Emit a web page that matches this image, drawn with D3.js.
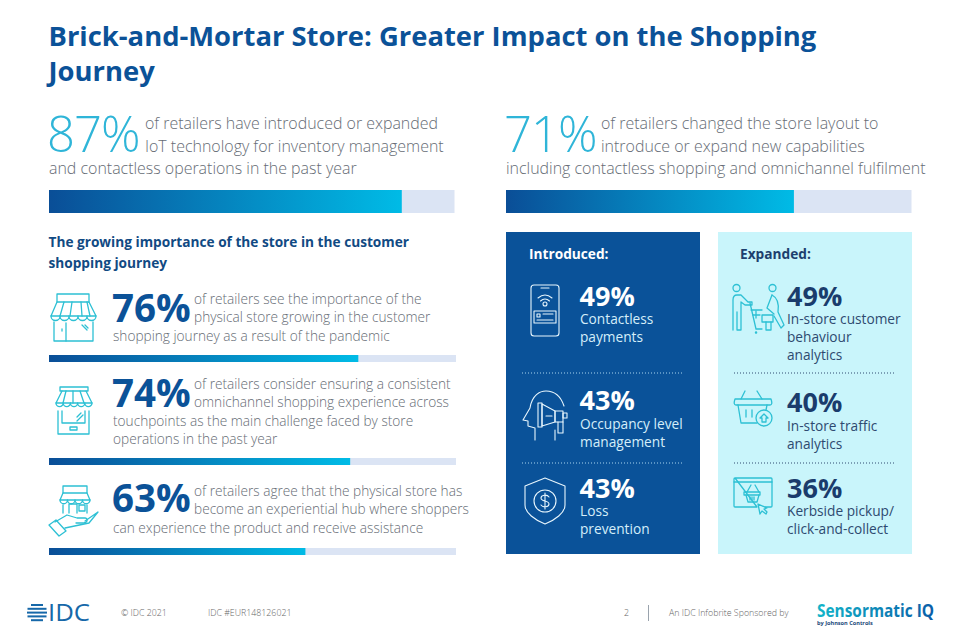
<!DOCTYPE html>
<html>
<head>
<meta charset="utf-8">
<script src="https://cdn.jsdelivr.net/npm/d3@7"></script>
<style>
  html, body { margin: 0; padding: 0; background: #fff; }
  text { font-family: "Open Sans", sans-serif; }
</style>
</head>
<body>
<svg id="chart" width="960" height="640"></svg>
<script>
const titleLines = ["Brick-and-Mortar Store: Greater Impact on the Shopping", "Journey"];

// two headline numbers
const headlineValues = [87, 71];
const headlineText = [
  ["of retailers have introduced or expanded", "IoT technology for inventory management", "and contactless operations in the past year"],
  ["of retailers changed the store layout to", "introduce or expand new capabilities", "including contactless shopping and omnichannel fulfilment"]
];

const subHeading = ["The growing importance of the store in the customer", "shopping journey"];

// left column
const storeValues = [76, 74, 63];
const storeText = [
  ["of retailers see the importance of the", "physical store growing in the customer", "shopping journey as a result of the pandemic"],
  ["of retailers consider ensuring a consistent", "omnichannel shopping experience across", "touchpoints as the main challenge faced by store", "operations in the past year"],
  ["of retailers agree that the physical store has", "become an experiential hub where shoppers", "can experience the product and receive assistance"]
];

// right panels
const introducedValues = [49, 43, 43];
const introducedLabels = [["Contactless", "payments"], ["Occupancy level", "management"], ["Loss", "prevention"]];
const expandedValues = [49, 40, 36];
const expandedLabels = [["In-store customer", "behaviour", "analytics"], ["In-store traffic", "analytics"], ["Kerbside pickup/", "click-and-collect"]];

const footerText = ["© IDC 2021", "IDC #EUR148126021", "2", "An IDC Infobrite Sponsored by"];

const blue = "#0b5298", cyan = "#2fb5d8", grey = "#666c75";
const svg = d3.select("#chart");

const grad = svg.append("defs").append("linearGradient").attr("id", "barGrad");
grad.append("stop").attr("offset", "0%").attr("stop-color", "#0a4e97");
grad.append("stop").attr("offset", "100%").attr("stop-color", "#00bbe6");

const logoGrad = svg.select("defs").append("linearGradient").attr("id", "logoGrad");
logoGrad.append("stop").attr("offset", "0%").attr("stop-color", "#12b5c9");
logoGrad.append("stop").attr("offset", "100%").attr("stop-color", "#0a5ea8");

function addText(x, y, str, size, weight, fill) {
  return svg.append("text").attr("x", x).attr("y", y).text(str)
    .attr("font-size", size).attr("font-weight", weight).attr("fill", fill);
}

// the value bars all share this: track plus gradient fill on a 0-100 scale
function progress(x0, x1, y, h, value) {
  const x = d3.scaleLinear().domain([0, 100]).range([x0, x1]);
  svg.append("rect").attr("x", x(0)).attr("y", y).attr("width", x(100) - x(0)).attr("height", h).attr("fill", "#dbe4f4");
  svg.append("rect").attr("x", x(0)).attr("y", y).attr("width", x(value) - x(0)).attr("height", h).attr("fill", "url(#barGrad)");
}

titleLines.forEach((t, i) => addText(48.5, 46 + i * 35, t, 27.4, 700, blue));

// headlines
const headX = [[49, 506], [145, 601]];
headlineValues.forEach((v, i) => {
  const left = headX[0][i];
  addText(left - 2, 152, v + "%", 49, 300, cyan).attr("letter-spacing", -1);
  headlineText[i].forEach((t, j) => {
    addText(j < 2 ? headX[1][i] : left, 129 + j * 22.7, t, 15.95, 300, grey);
  });
  progress(left, left + 405.5, 190, 23, v);
});

subHeading.forEach((t, i) => addText(48.5, 247 + i * 20.5, t, 13.66, 700, "#114a83"));

// left column rows
const rowPctBase = [322, 406.5, 512];
const rowTextBase = [322, 407, 514];
const rowBarY = [355, 458, 548];
storeValues.forEach((v, i) => {
  addText(112, rowPctBase[i], v + "%", 38.5, 700, blue);
  storeText[i].forEach((t, j) => {
    addText(j < 2 ? 194 : 113, rowTextBase[i] - 18.3 + j * 18.4, t, 13.66, 300, grey);
  });
  progress(49, 456, rowBarY[i], 7, v);
});

// panels
svg.append("rect").attr("x", 506).attr("y", 232).attr("width", 194).attr("height", 322).attr("fill", "#0a5299");
svg.append("rect").attr("x", 718).attr("y", 232).attr("width", 194).attr("height", 322).attr("fill", "#c9f5fb");

addText(529, 259, "Introduced:", 13.7, 700, "#fff");
addText(740, 259, "Expanded:", 13.7, 700, "#1c3f6e");

const inBase = [306, 410, 498], inLabelBase = [324, 429, 516];
const exBase = [306, 412, 498], exLabelBase = [324, 431, 516];
introducedValues.forEach((v, i) => {
  addText(579.5, inBase[i], v + "%", 27, 700, "#fff");
  introducedLabels[i].forEach((t, j) => addText(580, inLabelBase[i] + j * 18.2, t, 13.7, 400, "#d5eef9"));
});
expandedValues.forEach((v, i) => {
  addText(787, exBase[i], v + "%", 27, 700, "#1a3c6c");
  expandedLabels[i].forEach((t, j) => addText(787, exLabelBase[i] + j * 18.2, t, 13.7, 400, "#2e4a70"));
});

[[522, 684, "#a8d4ee"], [734, 896, "#2e4a70"]].forEach(d => {
  [373, 463].forEach(y => {
    svg.append("line").attr("x1", d[0]).attr("x2", d[1]).attr("y1", y).attr("y2", y)
      .attr("stroke", d[2]).attr("stroke-width", 1).attr("stroke-dasharray", "1 2");
  });
});

// outline icons
function icon(stroke, width, paths) {
  svg.append("g").attr("fill", "none").attr("stroke", stroke).attr("stroke-width", width)
    .attr("stroke-linecap", "round").attr("stroke-linejoin", "round")
    .selectAll("path").data(paths).join("path").attr("d", d => d);
}
const scallop = (x, y, r, n) => {
  let s = `M${x} ${y}`;
  for (let i = 0; i < n; i++) s += `a${r} ${r} 0 0 0 ${2 * r} 0`;
  return s;
};
const teal = "#2dc0d4";

// store front
icon(teal, 1.3, [
  "M57 302V294H89V302", "M57 302H89L96 316H51Z", "M64 302L60 316M72 302L70 316M81 302L82 316M87 302L90 316",
  scallop(51, 316, 4.5, 5), "M54 322V341H93V322", "M66 323V341", "M62 329V331", "M82 325L87 330M85 325L88 328"
]);
// tablet with awning
icon(teal, 1.3, [
  "M60 387H88V391H60Z", "M62 391L56 403H92L86 391", "M66 391L63 403M73 391V403M80 391L84 403",
  scallop(56, 403, 3.6, 5), "M58 411V434H89V411", "M62 411V423H85V411", "M70 427H77V430H70Z", "M77 417L81 413M77 421L83 415"
]);
// store on a hand
icon(teal, 1.3, [
  "M63 486H87V493H63Z", "M63 493L60 500H90L87 493", scallop(60, 500, 3.75, 4), "M63 505V513M87 505V513",
  "M69 513V504H77V513", "M79 505H85V511H79Z",
  "M49 525L56 520L66 531L59 536Z", "M55 522L67 515L77 518H85C88 518 88 522 84 523L76 523",
  "M85 521L98 512L89 523L65 528"
]);
// phone payment
icon("#e8f6fd", 1.1, [
  "M534 285H556Q559 285 559 288V333Q559 336 556 336H534Q531 336 531 333V288Q531 285 534 285Z", "M541 288H549",
  "M538 298Q545 292 552 298M540.5 301Q545 297 549.5 301", "M543 304a2 2 0 1 0 4 0a2 2 0 1 0 -4 0",
  "M534 311H556V323H534Z", "M537 314H540V317H537ZM543 314H553M537 320H553"
]);
// head with megaphone
icon("#e8f6fd", 1.1, [
  "M535 440V428L528 426V421L523 420L530 408C532 395 540 391 546 391C555 391 561 397 564 406",
  "M555 440V430", "M538 403V427H542V403Z", "M542 404L555 411V422L542 426Z", "M555 411H563V422H555Z", "M563 413H567V418H563Z",
  "M558 422V433H563V422", "M546 416H552"
]);
// shield with dollar
icon("#e8f6fd", 1.1, [
  "M545 478L565 486V505C565 513 555 520 545 524C535 520 525 513 525 505V486Z",
  "M534 501a11 11 0 1 0 22 0a11 11 0 1 0 -22 0", "M549 497C547 494 541 495 541 498C541 502 549 500 549 504C549 507 543 508 541 505M545 493V509"
]);
// two shoppers and cart
icon(teal, 1.3, [
  "M733 288a3.5 3.5 0 1 0 7 0a3.5 3.5 0 1 0 -7 0", "M733 330V300Q733 295 737 295H741L748 302H752V305H745L741 302V330H737V312",
  "M769 288a3.5 3.5 0 1 0 7 0a3.5 3.5 0 1 0 -7 0", "M750 303L756 329H762M751 310H762", "M753 315H760M756 311V318",
  "M772 295C778 298 779 305 778 312L784 325L781 328L774 316", "M772 295L767 308L774 314", "M771 322V330H766V322",
  "M762 315H773V322H762Z", "M756 332a.6 .6 0 1 0 .1 0"
]);
// basket with arrow
icon(teal, 1.3, [
  "M745 391L741 399M757 391L762 399", "M735 399H771Q773 405 770 405H736Q733 405 735 399Z", "M738 405L741 423H757", "M767 405L766 410",
  "M746 410V417M752 410V417", "M756 418a8 8 0 1 0 16 0a8 8 0 1 0 -16 0", "M760 418L764 414L768 418H766V422H762V418Z"
]);
// browser with basket
icon(teal, 1.3, [
  "M735 478H771Q772 478 772 479V506Q772 507 771 507H765M757 507H735Q734 507 734 506V479Q734 478 735 478Z", "M734 482H772",
  "M751 485L747 492M755 485L759 492", "M744 492H760V495H744Z", "M746 495L748 502H757L759 495", "M750 497V500M752 497V500M754 497V500",
  "M758 504L760 514L762 511L766 514L767 512L764 509L767 508Z"
]);

// footer
addText(121, 616, footerText[0], 8.8, 300, "#666");
addText(208, 616, footerText[1], 8.8, 300, "#666");
addText(624, 616, footerText[2], 8.8, 300, "#666");
addText(669, 616, footerText[3], 8.8, 300, "#666");
svg.append("line").attr("x1", 648.5).attr("x2", 648.5).attr("y1", 605).attr("y2", 621).attr("stroke", "#9aa3ad");

// IDC logo
addText(48, 621, "IDC", 24.5, 400, "#1668a9").attr("textLength", 42).attr("lengthAdjust", "spacingAndGlyphs");
[6, 9.5, 10, 9.5, 6].forEach((hw, i) => {
  svg.append("rect").attr("x", 37 - hw).attr("y", 604 + i * 3.8).attr("width", 2 * hw).attr("height", 2).attr("fill", "#1668a9");
});

// sponsor logo
addText(817, 617, "Sensormatic IQ", 18, 700, "url(#logoGrad)").attr("textLength", 117).attr("lengthAdjust", "spacingAndGlyphs");
addText(817, 624.5, "by Johnson Controls", 5.6, 700, "#1b4a7a");
</script>
</body>
</html>
